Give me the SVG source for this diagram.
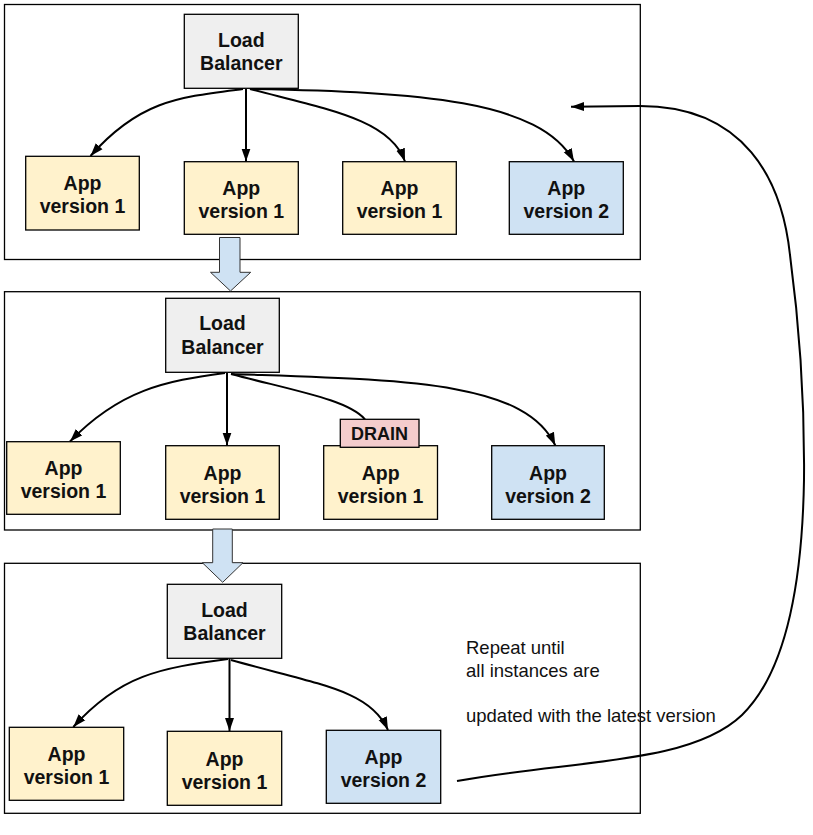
<svg xmlns="http://www.w3.org/2000/svg" width="813" height="835" viewBox="0 0 813 835">
<style>
.panel{fill:#fff;stroke:#000;stroke-width:1.3}
.lb{fill:#efefef;stroke:#000;stroke-width:1.3}
.v1{fill:#fff2cc;stroke:#000;stroke-width:1.3}
.v2{fill:#cfe2f3;stroke:#000;stroke-width:1.3}
.drain{fill:#f4cccc;stroke:#000;stroke-width:1.3}
.big{fill:#cfe2f3;stroke:#333;stroke-width:1}
.t{font-family:"Liberation Sans",Arial,sans-serif;font-weight:bold;font-size:19.5px;fill:#111;text-anchor:middle}
.d{font-family:"Liberation Sans",Arial,sans-serif;font-weight:bold;font-size:18px;fill:#111;text-anchor:middle}
.note{font-family:"Liberation Sans",Arial,sans-serif;font-size:18.5px;fill:#111}
.c{fill:none;stroke:#000;stroke-width:2}
</style>
<defs>
<marker id="ah" markerUnits="userSpaceOnUse" markerWidth="14" markerHeight="10" refX="13" refY="5" orient="auto">
<path d="M0,0.5 L13,5 L0,9.5 z" fill="#000"/>
</marker>
</defs>

<g id="panels">
<rect class="panel" x="4.5" y="4.5" width="635.8" height="255"/>
<rect class="panel" x="4.5" y="291.7" width="635.8" height="238.3"/>
<rect class="panel" x="4.5" y="563.3" width="635.8" height="250"/>
</g>

<g id="step-arrows">
<path class="big" d="M219.5,237.5 H240 V272.3 H250.7 L230.5,291 L210.5,272.3 H219.5 Z"/>
<path class="big" d="M212.7,529 H232.3 V562.7 H243 L222.7,582.3 L202.3,562.7 H212.7 Z"/>
</g>

<g id="lb1"><rect class="lb" x="184.3" y="14.3" width="114" height="74"/><text class="t" x="241.3" y="46.8">Load</text><text class="t" x="241.3" y="70">Balancer</text></g>
<g id="app1a"><rect class="v1" x="25.7" y="156.3" width="113.6" height="73.7"/><text class="t" x="82.5" y="190">App</text><text class="t" x="82.5" y="212.5">version 1</text></g>
<g id="app1b"><rect class="v1" x="184.3" y="161.7" width="114" height="72.6"/><text class="t" x="241.3" y="195">App</text><text class="t" x="241.3" y="218">version 1</text></g>
<g id="app1c"><rect class="v1" x="342.7" y="161.7" width="113.6" height="72.6"/><text class="t" x="399.5" y="195">App</text><text class="t" x="399.5" y="218">version 1</text></g>
<g id="app1d"><rect class="v2" x="509.3" y="161.7" width="114" height="72.6"/><text class="t" x="566.3" y="195">App</text><text class="t" x="566.3" y="218">version 2</text></g>

<g id="lb2"><rect class="lb" x="165.7" y="298.3" width="113.6" height="74"/><text class="t" x="222.5" y="330">Load</text><text class="t" x="222.5" y="354">Balancer</text></g>
<g id="app2a"><rect class="v1" x="6.7" y="441.7" width="113.6" height="72.6"/><text class="t" x="63.5" y="475">App</text><text class="t" x="63.5" y="498">version 1</text></g>
<g id="app2b"><rect class="v1" x="165.7" y="445.7" width="113.6" height="73.6"/><text class="t" x="222.5" y="479.5">App</text><text class="t" x="222.5" y="502.5">version 1</text></g>
<g id="app2c"><rect class="v1" x="323.7" y="445.7" width="113.8" height="73.6"/><text class="t" x="380.6" y="479.5">App</text><text class="t" x="380.6" y="502.5">version 1</text></g>
<g id="app2d"><rect class="v2" x="491.7" y="445.7" width="112.6" height="73.6"/><text class="t" x="548" y="479.5">App</text><text class="t" x="548" y="502.5">version 2</text></g>

<g id="lb3"><rect class="lb" x="167.3" y="584.3" width="114.4" height="74"/><text class="t" x="224.5" y="616.5">Load</text><text class="t" x="224.5" y="640">Balancer</text></g>
<g id="app3a"><rect class="v1" x="9.3" y="727.3" width="114.4" height="73"/><text class="t" x="66.5" y="761">App</text><text class="t" x="66.5" y="784">version 1</text></g>
<g id="app3b"><rect class="v1" x="167.3" y="731.3" width="114.4" height="74"/><text class="t" x="224.5" y="765.5">App</text><text class="t" x="224.5" y="788.5">version 1</text></g>
<g id="app3c"><rect class="v2" x="326.3" y="730.3" width="114.4" height="73"/><text class="t" x="383.5" y="764">App</text><text class="t" x="383.5" y="787">version 2</text></g>

<g id="connectors">
<path class="c" marker-end="url(#ah)" d="M243,89 C180,97 140,100 90.5,156"/>
<path class="c" marker-end="url(#ah)" d="M246,89 L246,161.5"/>
<path class="c" marker-end="url(#ah)" d="M250,89 C330,110 390,120 405,161.5"/>
<path class="c" marker-end="url(#ah)" d="M250,89 C420,92 540,100 574,161.5"/>

<path class="c" marker-end="url(#ah)" d="M225,373 C165,381 120,390 70,441.5"/>
<path class="c" marker-end="url(#ah)" d="M227,373 L227,445.5"/>
<path class="c" d="M231,374 C300,392 348,400 365,419.3"/>
<path class="c" marker-end="url(#ah)" d="M231,374 C400,380 525,380 555.3,445.5"/>

<path class="c" marker-end="url(#ah)" d="M228,659 C160,668 120,675 73.3,727"/>
<path class="c" marker-end="url(#ah)" d="M229.5,659 L229.5,731"/>
<path class="c" marker-end="url(#ah)" d="M231,660 C320,685 370,690 388,730"/>

<path class="c" marker-end="url(#ah)" d="M457,781 C570,760 690,765 742,715 C780,678 802,600 804,480 C805,380 796,300 790,255 C782,180 745,106 640,106 L571,106.7"/>
</g>

<g id="drain"><rect class="drain" x="340.3" y="419.3" width="78.7" height="28"/><text class="d" x="379.6" y="440.3">DRAIN</text></g>

<g id="note">
<text class="note" x="466" y="654.3">Repeat until</text>
<text class="note" x="466" y="676.7">all instances are</text>
<text class="note" x="466" y="721.7">updated with the latest version</text>
</g>
</svg>
